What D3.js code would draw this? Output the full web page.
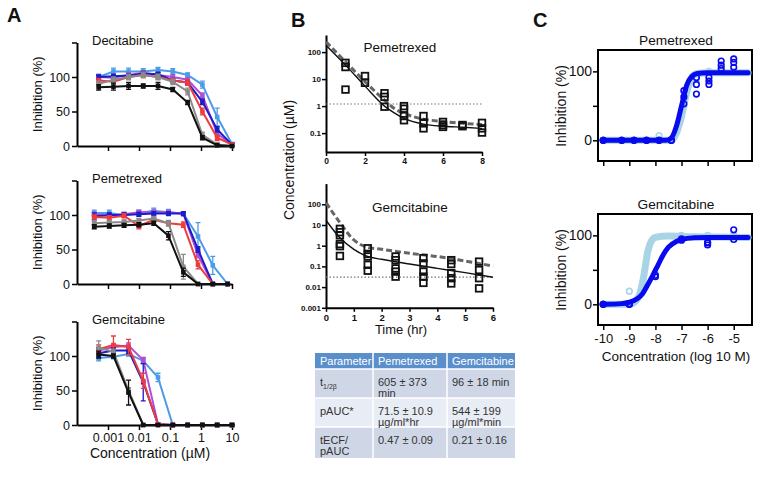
<!DOCTYPE html>
<html><head><meta charset="utf-8">
<script src="https://cdn.jsdelivr.net/npm/d3@7"></script>
<style>body{margin:0;background:#fff;} text{font-family:"Liberation Sans",Arial,sans-serif;}</style>
</head><body><svg id="c" width="762" height="479"></svg>
<script>
// ---------------- Panel A data ----------------
const concDec = [0.0005, 0.0015, 0.0046, 0.0137, 0.041, 0.123, 0.37, 1.11, 3.33, 10];
const concPem = [0.00036, 0.0011, 0.0033, 0.0099, 0.03, 0.089, 0.27, 0.8, 2.4, 7.2];
const concGem = [0.0005, 0.0015, 0.0046, 0.0137, 0.041, 0.123, 0.37, 1.11, 3.33, 10];
const tickValsA = [0.001, 0.01, 0.1, 1, 10];
const tickLabelsA = ["0.001", "0.01", "0.1", "1", "10"];
const seriesKeysA = ["lightblue", "purple", "blue", "red", "gray", "black"];

const decLightBlue = [100,108,108,108,110,108,103,89,42,3];
const decPurple    = [100,99,103,106,103,100,96,73,18,2];
const decBlue      = [100,101,102,105,104,95,92,64,24,2];
const decRed       = [95,93,100,103,100,95,92,50,12,2];
const decGray      = [90,96,100,103,100,93,79,16,2,0];
const decBlack     = [85,86,87,87,87,82,63,12,1,0];
const decLightBlueErr = [4,5,5,4,4,4,3,5,13,2];
const decPurpleErr    = [3,3,3,3,3,3,3,4,4,2];
const decBlueErr      = [3,3,3,3,3,3,3,4,4,2];
const decRedErr       = [3,3,3,4,3,3,4,5,4,2];
const decGrayErr      = [4,4,4,4,4,4,5,4,3,1];
const decBlackErr     = [4,5,5,3,5,3,3,3,1,1];

const pemLightBlue = [103,103,100,103,106,104,102,69,27,0];
const pemPurple    = [101,99,101,104,104,104,102,42,0,0];
const pemBlue      = [98,100,100,101,102,102,102,50,0,0];
const pemRed       = [97,96,99,84,93,88,86,28,0,0];
const pemGray      = [88,89,90,92,95,88,25,0,0,0];
const pemBlack     = [83,84,85,86,88,70,17,0,0,0];
const pemLightBlueErr = [4,4,3,4,4,4,3,20,13,1];
const pemPurpleErr    = [3,3,3,3,3,3,3,4,1,1];
const pemBlueErr      = [5,3,3,3,3,3,3,4,1,1];
const pemRedErr       = [3,3,3,4,3,3,4,6,1,1];
const pemGrayErr      = [3,3,3,3,3,4,18,1,1,1];
const pemBlackErr     = [3,3,3,3,3,6,6,1,1,1];

const gemLightBlue = [97,99,103,93,69,0,0,0,0,0];
const gemPurple    = [108,113,115,94,1,0,0,0,0,0];
const gemBlue      = [104,108,108,62,1,0,0,0,0,0];
const gemRed       = [110,116,113,64,1,0,0,0,0,0];
const gemGray      = [112,106,50,0,0,0,0,0,0,0];
const gemBlack     = [102,100,47,0,0,0,0,0,0,0];
const gemLightBlueErr = [4,3,3,4,6,1,1,1,1,1];
const gemPurpleErr    = [4,4,4,4,1,1,1,1,1,1];
const gemBlueErr      = [6,4,4,27,1,1,1,1,1,1];
const gemRedErr       = [6,13,11,11,1,1,1,1,1,1];
const gemGrayErr      = [10,4,4,1,1,1,1,1,1,1];
const gemBlackErr     = [5,3,18,1,1,1,1,1,1,1];

// ---------------- Panel B data ----------------
const pemTimes = [1,2,3,4,5,6,7,8];
const pemObs = [[40,28,4.1],[13,7.3],[3,2.2,0.95],[1.0,0.8,0.43,0.3],[0.43,0.23,0.15],[0.26,0.2,0.17],[0.2,0.18],[0.24,0.15,0.105]];
const pemFitT = [0,1,2,3,3.5,4,5,6,7,8];
const pemFitSolid  = [180,33,5.5,1.0,0.56,0.35,0.215,0.18,0.165,0.15];
const pemFitDashed = [240,44,8,1.67,0.82,0.54,0.33,0.27,0.23,0.21];
const pemThreshold = 1.2;
const pemTickY = [0.1,1,10,100];
const pemTickYLabels = ["0.1","1","10","100"];
const pemTickX = [0,2,4,6,8];

const gemTimes = [0.5,1.5,2.5,3.5,4.5,5.5];
const gemObs = [[6.5,4.5,3.2,1.2,0.95,0.32],[0.75,0.4,0.3,0.12,0.062],[0.3,0.2,0.08,0.056,0.032],[0.25,0.14,0.056,0.032,0.016],[0.2,0.13,0.047,0.027,0.015],[0.17,0.067,0.027,0.0087]];
const gemFitT = [0,0.5,1,1.5,2,3,4,5,6];
const gemFitSolid  = [17,2.4,0.67,0.3,0.22,0.13,0.08,0.05,0.03];
const gemFitDashed = [120,13,1.9,0.83,0.67,0.43,0.3,0.18,0.105];
const gemThreshold = 0.03;
const gemTickY = [0.001,0.01,0.1,1,10,100];
const gemTickYLabels = ["0.001","0.01","0.1","1","10","100"];
const gemTickX = [0,1,2,3,4,5,6];

const tableHeader = ["Parameter","Pemetrexed","Gemcitabine"];
const tableRows = [
  [["t"], ["605 ± 373","min"], ["96 ± 18 min"]],
  [["pAUC*"], ["71.5 ± 10.9","µg/ml*hr"], ["544 ± 199","µg/ml*min"]],
  [["tECF/","pAUC"], ["0.47 ± 0.09"], ["0.21 ± 0.16"]]
];

// ---------------- Panel C data ----------------
const cPemLogC = [-10,-9.29,-8.82,-8.34,-7.86,-7.39,-6.91,-6.43,-5.95,-5.48,-5];
const cPemBlueObs = [[0,0,0],[0,0,0],[0,0,0],[0,0,0],[0,0,0],[0,0,0],[72,63,53],[91,81,67],[91,86,81],[115,109,104],[118,113,106]];
const cPemLightObs = [[0],[0],[0],[0],[7],[0],[50],[88],[100],[100],[100]];
const cPemBlueFitX = [-10,-7.6,-7.4,-7.2,-7.0,-6.8,-6.6,-6.4,-6.0,-4.45];
const cPemBlueFitY = [0,0,3,20,50,80,93,97,98,98];
const cPemLightFitX = [-10,-7.4,-7.2,-7.0,-6.8,-6.6,-6.4,-6.0,-4.45];
const cPemLightFitY = [0,0,10,35,70,92,97,98,98];

const cGemLogC = [-10,-9,-8,-7,-6,-5];
const cGemBlueObs = [[0,0,0],[0,0,1],[42,40],[93,95],[89,86,90],[108,94]];
const cGemLightObs = [[0],[19],[45],[100],[100],[100]];
const cGemBlueFitX = [-10,-9.3,-9,-8.7,-8.5,-8.3,-8.1,-7.9,-7.7,-7.5,-7.2,-7.0,-6.5,-6,-4.45];
const cGemBlueFitY = [0,1,3,8,15,28,42,57,72,83,91,94,96.5,97,97];
const cGemLightFitX = [-10,-9,-8.8,-8.6,-8.45,-8.3,-8.15,-8.0,-7.5,-6.5,-4.45];
const cGemLightFitY = [0,0,3,15,40,75,92,97,99,98,97];
const cTickX = [-10,-9,-8,-7,-6,-5];

// ---------------- drawing ----------------
const svg = d3.select("#c");
const FONT = '"Liberation Sans",Arial,sans-serif';
const colorsA = {lightblue:"#4C9BE8", purple:"#B04ED8", blue:"#1C1CCB", red:"#EE3B3B", gray:"#8A8A8A", black:"#111111"};

function styleAxis(g, w, fs, bold) {
  g.select(".domain").attr("stroke","#000").attr("stroke-width",w);
  g.selectAll(".tick line").attr("stroke","#000").attr("stroke-width",Math.max(1,w-0.5));
  g.selectAll(".tick text").attr("font-family",FONT).attr("font-size",fs).attr("fill","#111")
    .attr("font-weight", bold ? "bold" : "normal");
}

function label(x, y, txt, fs, opts={}) {
  const t = svg.append("text").attr("x",x).attr("y",y).text(txt)
    .attr("font-size",fs).attr("fill", opts.fill || "#111")
    .attr("text-anchor", opts.anchor || "start")
    .attr("font-weight", opts.weight || "normal");
  if (opts.rotate) t.attr("transform",`rotate(-90,${x},${y})`);
  return t;
}

// panel letters
label(7,22,"A",20,{weight:"bold"});
label(291,27,"B",20,{weight:"bold"});
label(533,27,"C",20,{weight:"bold"});

function panelA(y0, title, conc, data, errs, showLabels) {
  const x = d3.scaleLog().domain([1e-4,10]).range([77,232]);
  const y = d3.scaleLinear().domain([0,150]).range([y0, y0-103.5]);
  const gx = svg.append("g").attr("transform",`translate(0,${y0})`)
    .call(d3.axisBottom(x).tickValues(tickValsA).tickFormat((d,i)=> showLabels ? tickLabelsA[i] : "").tickSize(5).tickSizeOuter(0).tickPadding(3));
  styleAxis(gx,2,12.5,false);
  const gy = svg.append("g").attr("transform","translate(77,0)")
    .call(d3.axisLeft(y).tickValues([0,50,100,150]).tickFormat(d=> d===150 ? "" : d).tickSize(5).tickSizeOuter(0).tickPadding(2));
  styleAxis(gy,2,12.5,false);
  seriesKeysA.forEach(k=>{
    const vals = data[k], e = errs[k], col = colorsA[k];
    const pts = vals.map((v,i)=>[x(conc[i]), y(v)]);
    svg.append("path").attr("d", d3.line()(pts)).attr("fill","none").attr("stroke",col).attr("stroke-width",2);
    vals.forEach((v,i)=>{
      const cx = x(conc[i]);
      svg.append("path").attr("d",`M${cx},${y(v-e[i])}V${y(v+e[i])}M${cx-2.5},${y(v+e[i])}H${cx+2.5}M${cx-2.5},${y(v-e[i])}H${cx+2.5}`)
        .attr("stroke",col).attr("stroke-width",1.3).attr("fill","none");
      svg.append("rect").attr("x",cx-2.3).attr("y",y(v)-2.3).attr("width",4.6).attr("height",4.6).attr("fill",col);
    });
  });
  label(92, y0-101, title, 13);
  label(42, (y0 + y0-103.5)/2, "Inhibition (%)", 13, {anchor:"middle", rotate:true});
}

panelA(146, "Decitabine", concDec,
  {lightblue:decLightBlue, purple:decPurple, blue:decBlue, red:decRed, gray:decGray, black:decBlack},
  {lightblue:decLightBlueErr, purple:decPurpleErr, blue:decBlueErr, red:decRedErr, gray:decGrayErr, black:decBlackErr}, false);
panelA(284, "Pemetrexed", concPem,
  {lightblue:pemLightBlue, purple:pemPurple, blue:pemBlue, red:pemRed, gray:pemGray, black:pemBlack},
  {lightblue:pemLightBlueErr, purple:pemPurpleErr, blue:pemBlueErr, red:pemRedErr, gray:pemGrayErr, black:pemBlackErr}, false);
panelA(425, "Gemcitabine", concGem,
  {lightblue:gemLightBlue, purple:gemPurple, blue:gemBlue, red:gemRed, gray:gemGray, black:gemBlack},
  {lightblue:gemLightBlueErr, purple:gemPurpleErr, blue:gemBlueErr, red:gemRedErr, gray:gemGrayErr, black:gemBlackErr}, true);
label(150, 458, "Concentration (µM)", 14, {anchor:"middle"});

// ---- Panel B ----
function panelB(cfg) {
  const x = d3.scaleLinear().domain(cfg.xd).range(cfg.xr);
  const y = d3.scaleLog().domain(cfg.yd).range(cfg.yr);
  const gx = svg.append("g").attr("transform",`translate(0,${cfg.yr[0]})`)
    .call(d3.axisBottom(x).tickValues(cfg.tx).tickFormat(d3.format("d")).tickSize(4).tickSizeOuter(0).tickPadding(2));
  styleAxis(gx,2,cfg.xfs,true);
  const gy = svg.append("g").attr("transform",`translate(${cfg.xr[0]},0)`)
    .call(d3.axisLeft(y).tickValues(cfg.ty).tickFormat((d,i)=>cfg.tyl[i]).tickSize(4).tickSizeOuter(0).tickPadding(1));
  styleAxis(gy,2,8,true);
  svg.append("line").attr("x1",cfg.xr[0]).attr("x2",cfg.xr[1]).attr("y1",y(cfg.thr)).attr("y2",y(cfg.thr))
    .attr("stroke","#777").attr("stroke-width",1.2).attr("stroke-dasharray","1.5,2");
  const ln = d3.line().x(d=>x(d[0])).y(d=>y(d[1])).curve(d3.curveMonotoneX);
  svg.append("path").attr("d", ln(cfg.fitT.map((t,i)=>[t,cfg.dashed[i]]))).attr("fill","none")
    .attr("stroke","#666").attr("stroke-width",3).attr("stroke-dasharray","6,3");
  svg.append("path").attr("d", ln(cfg.fitT.map((t,i)=>[t,cfg.solid[i]]))).attr("fill","none")
    .attr("stroke","#111").attr("stroke-width",1.4);
  cfg.times.forEach((t,i)=>{
    cfg.obs[i].forEach(v=>{
      svg.append("rect").attr("x",x(t)-3.3).attr("y",y(v)-3.3).attr("width",6.6).attr("height",6.6)
        .attr("fill","none").attr("stroke","#111").attr("stroke-width",1.8);
    });
  });
  label(cfg.titleX, cfg.titleY, cfg.title, 13.5, {anchor:"middle"});
}
panelB({xd:[0,8], xr:[326,482], yd:[0.02,430], yr:[152,35], tx:pemTickX, ty:pemTickY, tyl:pemTickYLabels, xfs:8.5,
  thr:pemThreshold, fitT:pemFitT, solid:pemFitSolid, dashed:pemFitDashed, times:pemTimes, obs:pemObs,
  title:"Pemetrexed", titleX:400, titleY:52});
panelB({xd:[0,6], xr:[326,493], yd:[0.001,1000], yr:[307.8,183.6], tx:gemTickX, ty:gemTickY, tyl:gemTickYLabels, xfs:9.5,
  thr:gemThreshold, fitT:gemFitT, solid:gemFitSolid, dashed:gemFitDashed, times:gemTimes, obs:gemObs,
  title:"Gemcitabine", titleX:410, titleY:212});
label(294, 160, "Concentration (µM)", 14, {anchor:"middle", rotate:true});
label(401, 334, "Time (hr)", 13, {anchor:"middle"});

// ---- Table ----
const colX = [315, 373, 447, 515];
const rowY = [353, 369, 398, 427, 458];
const rowFill = ["#CFD7E7", "#E8ECF4", "#CFD7E7"];
svg.append("rect").attr("x",colX[0]).attr("y",rowY[0]).attr("width",colX[3]-colX[0]).attr("height",rowY[1]-rowY[0]).attr("fill","#5A8FCB");
for (let r=0;r<3;r++) svg.append("rect").attr("x",colX[0]).attr("y",rowY[r+1]).attr("width",colX[3]-colX[0]).attr("height",rowY[r+2]-rowY[r+1]).attr("fill",rowFill[r]);
for (let c=1;c<3;c++) svg.append("line").attr("x1",colX[c]).attr("x2",colX[c]).attr("y1",rowY[0]).attr("y2",rowY[4]).attr("stroke","#fff").attr("stroke-width",1.5);
for (let r=1;r<4;r++) svg.append("line").attr("x1",colX[0]).attr("x2",colX[3]).attr("y1",rowY[r]).attr("y2",rowY[r]).attr("stroke","#fff").attr("stroke-width",1.5);
tableHeader.forEach((h,i)=> label(colX[i]+5, 365, h, 11, {fill:"#fff"}));
tableRows.forEach((row,r)=>{
  row.forEach((lines,c)=>{
    lines.forEach((ln,j)=>{
      const t = label(colX[c]+5, rowY[r+1]+17 + j*10.5, ln, 11, {fill:"#333"});
      if (r===0 && c===0) t.append("tspan").attr("font-size",7).attr("dy",3).text("1/2β");
    });
  });
});

// ---- Panel C ----
function panelC(cfg) {
  const x = d3.scaleLinear().domain([-10.2,-4.3]).range([598,752]);
  const y = d3.scaleLinear().domain([-30,131]).range([cfg.y1, cfg.y1-111]);
  svg.append("rect").attr("x",598).attr("y",cfg.y1-111).attr("width",154).attr("height",111)
    .attr("fill","none").attr("stroke","#000").attr("stroke-width",2);
  const gy = svg.append("g").attr("transform","translate(598,0)")
    .call(d3.axisLeft(y).tickValues([0,50,100]).tickFormat(d=> d===50 ? "" : d).tickSize(5).tickSizeOuter(0).tickPadding(1));
  gy.select(".domain").remove();
  styleAxis(gy,2,14,false);
  const gx = svg.append("g").attr("transform",`translate(0,${cfg.y1})`)
    .call(d3.axisBottom(x).tickValues(cTickX).tickFormat(d=> cfg.labels ? d3.format("d")(d).replace("−","-") : "").tickSize(5).tickSizeOuter(0).tickPadding(4));
  gx.select(".domain").remove();
  styleAxis(gx,2,13,false);
  const ln = d3.line().x(d=>x(d[0])).y(d=>y(d[1])).curve(d3.curveMonotoneX);
  svg.append("path").attr("d", ln(cfg.lfx.map((v,i)=>[v,cfg.lfy[i]]))).attr("fill","none")
    .attr("stroke","#A8D5E6").attr("stroke-width",7).attr("stroke-linecap","round");
  cfg.logc.forEach((c,i)=> cfg.lobs[i].forEach(v=>{
    svg.append("circle").attr("cx",x(c)).attr("cy",y(v)).attr("r",2.8).attr("fill","none").attr("stroke","#A8D5E6").attr("stroke-width",1.6);
  }));
  svg.append("path").attr("d", ln(cfg.bfx.map((v,i)=>[v,cfg.bfy[i]]))).attr("fill","none")
    .attr("stroke","#0A0AEE").attr("stroke-width",5).attr("stroke-linecap","round");
  cfg.logc.forEach((c,i)=> cfg.bobs[i].forEach(v=>{
    svg.append("circle").attr("cx",x(c)).attr("cy",y(v)).attr("r",2.8).attr("fill","none").attr("stroke","#0A0AEE").attr("stroke-width",1.6);
  }));
  label(676, cfg.y1-116, cfg.title, 13.7, {anchor:"middle"});
  label(566, cfg.y1-55, "Inhibition (%)", 14, {anchor:"middle", rotate:true});
}
panelC({y1:161, title:"Pemetrexed", labels:false, logc:cPemLogC, bobs:cPemBlueObs, lobs:cPemLightObs,
  bfx:cPemBlueFitX, bfy:cPemBlueFitY, lfx:cPemLightFitX, lfy:cPemLightFitY});
panelC({y1:325, title:"Gemcitabine", labels:true, logc:cGemLogC, bobs:cGemBlueObs, lobs:cGemLightObs,
  bfx:cGemBlueFitX, bfy:cGemBlueFitY, lfx:cGemLightFitX, lfy:cGemLightFitY});
label(676, 361, "Concentration (log 10 M)", 13.5, {anchor:"middle"});
</script></body></html>
